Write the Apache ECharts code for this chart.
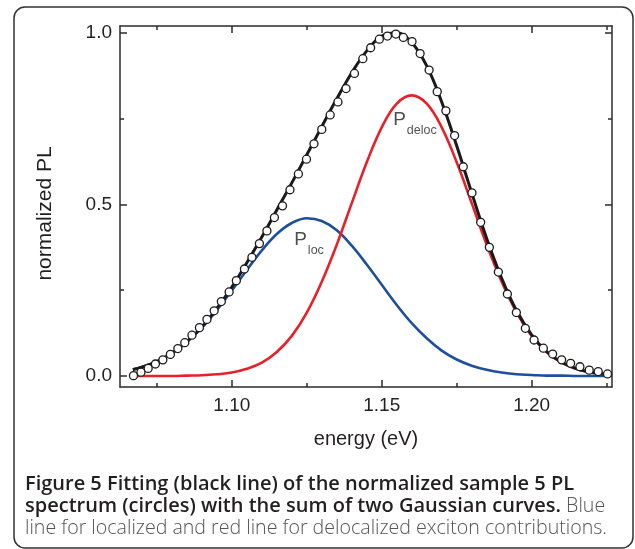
<!DOCTYPE html>
<html><head><meta charset="utf-8">
<script src="https://cdn.jsdelivr.net/npm/echarts@6/dist/echarts.min.js"></script>
<style>html,body{margin:0;padding:0;background:#fff;}#c{width:635px;height:549px;}</style>
</head><body><div id="c"></div>
<script>
// Fit curves (energy in eV, normalized PL)
const fitE = [1.067,1.070,1.075,1.080,1.085,1.090,1.095,1.100,1.105,1.110,1.115,1.120,1.125,1.130,1.135,1.140,1.145,1.150,1.155,1.160,1.165,1.170,1.175,1.180,1.185,1.190,1.195,1.200,1.205,1.210,1.215,1.220,1.225];
const locV = [0.019,0.026,0.042,0.066,0.099,0.141,0.192,0.249,0.309,0.366,0.414,0.446,0.460,0.452,0.425,0.380,0.325,0.266,0.207,0.154,0.110,0.074,0.048,0.030,0.018,0.010,0.005,0.003,0.001,0.001,0.000,0.000,0.000];
const delocV = [0.000,0.000,0.000,0.000,0.001,0.002,0.005,0.010,0.021,0.039,0.070,0.117,0.185,0.275,0.383,0.504,0.623,0.725,0.794,0.818,0.794,0.725,0.623,0.504,0.383,0.275,0.185,0.117,0.070,0.039,0.021,0.010,0.005];
const sumV = [0.019,0.026,0.042,0.066,0.100,0.143,0.197,0.259,0.330,0.405,0.484,0.563,0.645,0.727,0.808,0.884,0.948,0.991,1.001,0.972,0.904,0.799,0.671,0.534,0.401,0.285,0.190,0.120,0.071,0.040,0.021,0.010,0.005];
// Measured spectrum (circles)
const dataE = [1.0672,1.0697,1.0721,1.0745,1.0770,1.0795,1.0820,1.0843,1.0867,1.0892,1.0917,1.0941,1.0965,1.0991,1.1015,1.1042,1.1067,1.1092,1.1117,1.1142,1.1169,1.1194,1.1222,1.1249,1.1274,1.1300,1.1328,1.1354,1.1381,1.1409,1.1437,1.1463,1.1492,1.1519,1.1547,1.1572,1.1601,1.1628,1.1658,1.1685,1.1714,1.1743,1.1772,1.1801,1.1830,1.1859,1.1889,1.1919,1.1949,1.1979,1.2008,1.2039,1.2070,1.2100,1.2130,1.2161,1.2192,1.2222,1.2253];
const dataV = [0.001,0.011,0.022,0.035,0.047,0.063,0.080,0.097,0.119,0.141,0.165,0.190,0.217,0.245,0.278,0.312,0.346,0.386,0.423,0.462,0.496,0.543,0.589,0.632,0.677,0.719,0.761,0.799,0.838,0.882,0.925,0.957,0.982,0.991,0.997,0.987,0.975,0.940,0.892,0.829,0.773,0.701,0.610,0.534,0.448,0.375,0.303,0.239,0.185,0.139,0.105,0.081,0.064,0.047,0.037,0.027,0.017,0.013,0.006];
// Axis ticks
const xMajor = [1.10,1.15,1.20];
const xMinor = [1.075,1.125,1.175,1.225];
const yMajor = [0.0,0.5,1.0];
const yMinor = [0.25,0.75];
// Curve annotations
const annoText = ['loc','deloc'];
const annoE = [1.1208,1.1538];
const annoV = [0.4257,0.7755];

const X_MIN = 1.0627, X_MAX = 1.2268, Y_MIN = -0.0321, Y_MAX = 1.0204;
const AX = '#2b2b2b', TXT = '#231f20', FONT = 'Liberation Sans';
const pairs = (xs, ys) => xs.map((x, i) => [x, ys[i]]);

function xAx(pos, ticks, len, lineOn, labels) {
  return {
    type: 'value', min: X_MIN, max: X_MAX, position: pos, gridIndex: 0,
    axisLine: {show: lineOn, onZero: false, lineStyle: {color: AX, width: 1.5}},
    axisTick: {show: true, inside: true, length: len, customValues: ticks, lineStyle: {color: AX, width: 1.5}},
    axisLabel: labels ? {show: true, customValues: ticks, formatter: v => v.toFixed(2), margin: 9, fontSize: 19, color: TXT, fontFamily: FONT} : {show: false},
    splitLine: {show: false},
    name: labels ? 'energy (eV)' : '', nameLocation: 'middle', nameGap: 42,
    nameTextStyle: {fontSize: 20, color: TXT, fontFamily: FONT}
  };
}
function yAx(pos, ticks, len, lineOn, labels) {
  return {
    type: 'value', min: Y_MIN, max: Y_MAX, position: pos, gridIndex: 0,
    axisLine: {show: lineOn, onZero: false, lineStyle: {color: AX, width: 1.5}},
    axisTick: {show: true, inside: true, length: len, customValues: ticks, lineStyle: {color: AX, width: 1.5}},
    axisLabel: labels ? {show: true, customValues: ticks, formatter: v => v.toFixed(1), margin: 8, fontSize: 19, color: TXT, fontFamily: FONT} : {show: false},
    splitLine: {show: false},
    name: labels ? 'normalized PL' : '', nameLocation: 'middle', nameGap: 64, nameRotate: 90,
    nameTextStyle: {fontSize: 21, color: TXT, fontFamily: FONT, padding: [0, 14, 0, 0]}
  };
}

const chart = echarts.init(document.getElementById('c'), null, {renderer: 'canvas'});
const capFont = 'Open Sans';
chart.setOption({
  animation: false,
  backgroundColor: '#fff',
  grid: {left: 120, right: 23, top: 26, bottom: 162, containLabel: false},
  xAxis: [xAx('bottom', xMajor, 7, true, true), xAx('bottom', xMinor, 4, false, false), xAx('top', xMajor, 7, true, false), xAx('top', xMinor, 4, false, false)],
  yAxis: [yAx('left', yMajor, 7, true, true), yAx('left', yMinor, 4, false, false), yAx('right', yMajor, 7, true, false), yAx('right', yMinor, 4, false, false)],
  title: [
    {text: 'Figure 5 Fitting (black line) of the normalized sample 5 PL', left: 25, top: 473, padding: 0,
     textStyle: {fontFamily: capFont, fontSize: 20, fontWeight: 600, color: TXT, lineHeight: 22}},
    {text: '{b|spectrum (circles) with the sum of two Gaussian curves.}{r| Blue}', left: 25, top: 495, padding: 0,
     textStyle: {rich: {b: {fontFamily: capFont, fontSize: 20, fontWeight: 600, color: TXT, lineHeight: 22},
                        r: {fontFamily: capFont, fontSize: 19.6, fontWeight: 300, color: '#555', lineHeight: 22}}}},
    {text: 'line for localized and red line for delocalized exciton contributions.', left: 25, top: 517, padding: 0,
     textStyle: {fontFamily: capFont, fontSize: 19.6, fontWeight: 300, color: '#555', lineHeight: 22}}
  ],
  graphic: [{type: 'rect', shape: {x: 14, y: 7, width: 619, height: 541, r: 11}, style: {fill: 'none', stroke: '#333', lineWidth: 1.5}, z: -1, silent: true}],
  series: [
    {type: 'line', name: 'loc', data: pairs(fitE, locV), smooth: 0.4, showSymbol: false, lineStyle: {color: '#1d4f9e', width: 2.6}, z: 2},
    {type: 'line', name: 'deloc', data: pairs(fitE, delocV), smooth: 0.4, showSymbol: false, lineStyle: {color: '#e8202a', width: 2.6}, z: 3},
    {type: 'line', name: 'fit', data: pairs(fitE, sumV), smooth: 0.4, showSymbol: false, lineStyle: {color: '#1a1a1a', width: 3}, z: 4},
    {type: 'scatter', name: 'data', data: pairs(dataE, dataV), symbol: 'circle', symbolSize: 8,
     itemStyle: {color: '#fff', borderColor: '#1a1a1a', borderWidth: 1.3, opacity: 1}, z: 5},
    {type: 'scatter', name: 'anno', data: pairs(annoE, annoV), symbolSize: 0, silent: true, z: 6,
     label: {show: true, position: [0, 0], align: 'left', verticalAlign: 'top',
       formatter: p => '{p|P}{s|' + annoText[p.dataIndex] + '}',
       rich: {p: {fontFamily: FONT, fontSize: 19, lineHeight: 20, verticalAlign: 'top', color: TXT},
              s: {fontFamily: FONT, fontSize: 12.5, lineHeight: 12, padding: [14, 0, 0, 1], verticalAlign: 'top', color: TXT}}}}
  ]
});
</script></body></html>
